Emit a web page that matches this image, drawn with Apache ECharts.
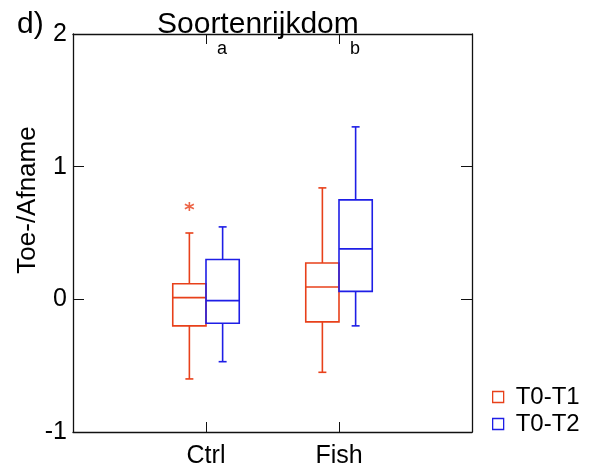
<!DOCTYPE html>
<html>
<head>
<meta charset="utf-8">
<script src="https://cdn.jsdelivr.net/npm/echarts@6/dist/echarts.min.js"></script>
<style>
html,body{margin:0;padding:0;background:#fff;}
#chart{width:592px;height:471px;}
</style>
</head>
<body>
<div id="chart"></div>
<script>
// ---- data ----
var groups = ['Ctrl', 'Fish'];
var seriesNames = ['T0-T1', 'T0-T2'];
// [min, Q1, median, Q3, max]
var t0t1 = [
  [-0.60, -0.20, 0.013, 0.118, 0.50],
  [-0.55, -0.17, 0.093, 0.274, 0.84]
];
var t0t2 = [
  [-0.47, -0.18, -0.01, 0.30, 0.546],
  [-0.20, 0.06, 0.38, 0.75, 1.30]
];
// outliers: [groupIndex, value]
var t0t1Outliers = [[0, 0.70]];
var sigLetters = ['a', 'b'];
var yTicks = [-1, 0, 1, 2];

// ---- styling ----
var RED = '#e8401a';
var BLUE = '#1e1ee6';
var FONT = 'Liberation Sans, Arial, Helvetica, sans-serif';
var BOX_W = 0.25;   // in axis units
var CAP_W = 0.06;
var OFF = 0.125;

function rows(arr) { return arr.map(function (v, i) { return [i + 1].concat(v); }); }

function boxRender(offset, color) {
  return function (params, api) {
    var x = api.value(0) + offset;
    var lo = api.coord([x, api.value(1)]);
    var q1 = api.coord([x, api.value(2)]);
    var md = api.coord([x, api.value(3)]);
    var q3 = api.coord([x, api.value(4)]);
    var hi = api.coord([x, api.value(5)]);
    var hw = api.size([BOX_W, 0])[0] / 2;
    var cw = api.size([CAP_W, 0])[0] / 2;
    var cx = md[0];
    var st = { stroke: color, lineWidth: 1.6, fill: null };
    return {
      type: 'group',
      children: [
        { type: 'rect', shape: { x: cx - hw, y: q3[1], width: 2 * hw, height: q1[1] - q3[1] }, style: { stroke: color, lineWidth: 1.6, fill: 'transparent' } },
        { type: 'line', shape: { x1: cx - hw, y1: md[1], x2: cx + hw, y2: md[1] }, style: st },
        { type: 'line', shape: { x1: cx, y1: q3[1], x2: cx, y2: hi[1] }, style: st },
        { type: 'line', shape: { x1: cx, y1: q1[1], x2: cx, y2: lo[1] }, style: st },
        { type: 'line', shape: { x1: cx - cw, y1: hi[1], x2: cx + cw, y2: hi[1] }, style: st },
        { type: 'line', shape: { x1: cx - cw, y1: lo[1], x2: cx + cw, y2: lo[1] }, style: st }
      ]
    };
  };
}

var axisLine = { show: true, onZero: false, lineStyle: { color: '#111', width: 1.3 } };
var chart = echarts.init(document.getElementById('chart'), null, { renderer: 'canvas' });
chart.setOption({
  animation: false,
  backgroundColor: '#fff',
  textStyle: { fontFamily: FONT },
  title: [
    { text: 'd)', left: 12, top: 5, textStyle: { fontFamily: FONT, fontSize: 30, fontWeight: 'normal', color: '#000' } },
    { text: 'Soortenrijkdom', left: 152, top: 5, textStyle: { fontFamily: FONT, fontSize: 30, fontWeight: 'normal', color: '#000' } }
  ],
  grid: { left: 73, right: 120, top: 34, bottom: 39 },
  legend: {
    orient: 'vertical', left: 487, top: 380, itemWidth: 11, itemHeight: 11, itemGap: 3,
    textStyle: { fontFamily: FONT, fontSize: 24, color: '#000', padding: [0, 0, 0, 7] },
    data: [
      { name: seriesNames[0], icon: 'rect', itemStyle: { color: '#fff', borderColor: RED, borderWidth: 1.3 } },
      { name: seriesNames[1], icon: 'rect', itemStyle: { color: '#fff', borderColor: BLUE, borderWidth: 1.3 } }
    ]
  },
  xAxis: [
    {
      type: 'value', min: 0, max: groups.length + 1, interval: 1, position: 'bottom',
      axisLine: axisLine, splitLine: { show: false },
      axisTick: { show: true, inside: true, length: 10, lineStyle: { color: '#111' } },
      axisLabel: { fontFamily: FONT, fontSize: 25, color: '#000', margin: 12,
        formatter: function (v) { return groups[v - 1] || ''; } }
    },
    {
      type: 'value', min: 0, max: groups.length + 1, interval: 1, position: 'top',
      axisLine: axisLine, splitLine: { show: false },
      axisTick: { show: true, inside: true, length: 10, lineStyle: { color: '#111' } },
      axisLabel: { show: false }
    }
  ],
  yAxis: [
    {
      type: 'value', min: yTicks[0], max: yTicks[yTicks.length - 1], interval: 1,
      axisLine: axisLine, splitLine: { show: false },
      axisTick: { show: true, inside: true, length: 11, lineStyle: { color: '#111' } },
      axisLabel: { fontFamily: FONT, fontSize: 25, color: '#000', margin: 6 }
    },
    {
      type: 'value', min: yTicks[0], max: yTicks[yTicks.length - 1], interval: 1, position: 'right',
      axisLine: axisLine, splitLine: { show: false },
      axisTick: { show: true, inside: true, length: 11, lineStyle: { color: '#111' } },
      axisLabel: { show: false }
    }
  ],
  graphic: [
    { type: 'text', x: 28, y: 200, rotation: Math.PI / 2,
      style: { text: 'Toe-/Afname', font: '26px ' + FONT, fill: '#000', align: 'center', verticalAlign: 'middle' } }
  ],
  series: [
    { name: seriesNames[0], type: 'custom', renderItem: boxRender(-OFF, RED), data: rows(t0t1), encode: { x: 0, y: [1, 2, 3, 4, 5] }, itemStyle: { color: RED }, clip: false },
    { name: seriesNames[1], type: 'custom', renderItem: boxRender(OFF, BLUE), data: rows(t0t2), encode: { x: 0, y: [1, 2, 3, 4, 5] }, itemStyle: { color: BLUE }, clip: false },
    { name: 'T0-T1 outliers', type: 'scatter',
      data: t0t1Outliers.map(function (o) { return [o[0] + 1 - OFF, o[1]]; }),
      symbol: 'path://M5,0L5,10M0.67,2.5L9.33,7.5M0.67,7.5L9.33,2.5', symbolSize: 9,
      itemStyle: { color: 'transparent', borderColor: RED, borderWidth: 1.6 } },
    { name: 'letters', type: 'scatter', clip: false, symbolSize: 0, silent: true,
      data: sigLetters.map(function (l, i) { return [i + 1, yTicks[yTicks.length - 1]]; }),
      label: { show: true, position: 'inside', offset: [16, 15], fontFamily: FONT, fontSize: 18, color: '#000',
        textBorderWidth: 0, opacity: 1,
        formatter: function (p) { return sigLetters[p.dataIndex]; } } }
  ]
});
</script>
</body>
</html>
